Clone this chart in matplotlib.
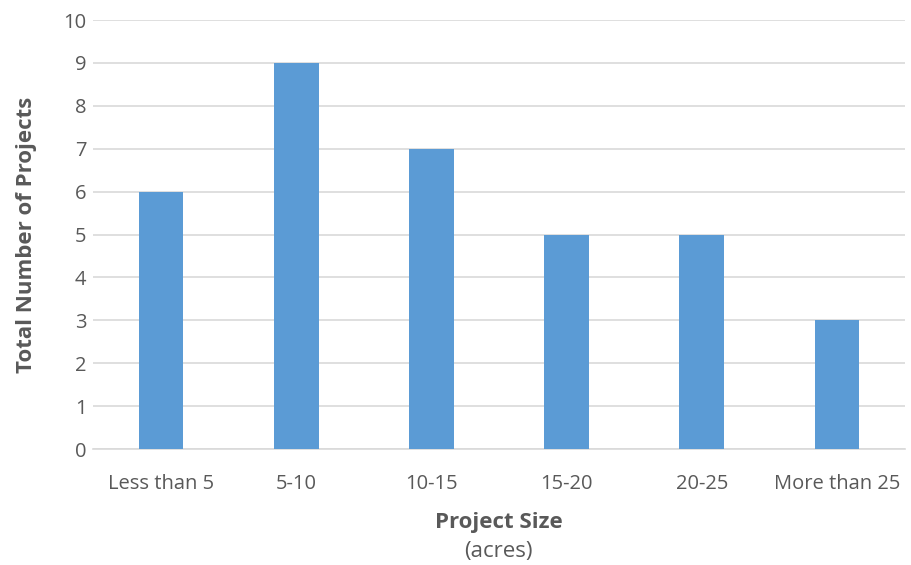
import matplotlib.pyplot as plt
import numpy as np

categories = ["Less than 5", "5-10", "10-15", "15-20", "20-25", "More than 25"]
projects = [6, 9, 7, 5, 5, 3]

plt.rcParams['font.family'] = ['Open Sans', 'DejaVu Sans']
text_color = "#595959"

fig = plt.figure(figsize=(9.12, 5.65), dpi=100)
ax = fig.add_axes([0.1025, 0.2053, 0.8893, 0.7593])

x = np.arange(len(categories))
ax.bar(x, projects, width=0.33, color="#5B9BD5", zorder=3)

ax.set_xlim(-0.5, len(categories) - 0.5)
ax.set_ylim(0, 10)
ax.set_yticks(range(0, 11))
ax.set_xticks(x)
ax.set_xticklabels(categories)

ax.grid(axis='y', color="#D9D9D9", linewidth=1.2, zorder=0)
for side in ['top', 'right', 'left']:
    ax.spines[side].set_visible(False)
ax.spines['bottom'].set_color("#D9D9D9")
ax.spines['bottom'].set_linewidth(1.2)
ax.tick_params(axis='both', length=0, labelsize=14.5, colors=text_color)
ax.tick_params(axis='x', pad=18)
ax.tick_params(axis='y', pad=5)

ax.set_ylabel("Total Number of Projects", fontsize=16, fontweight='bold',
              color=text_color, labelpad=19)
fig.text(0.547, 0.066, "Project Size", ha='center', fontsize=16,
         fontweight='bold', color=text_color)
fig.text(0.547, 0.015, "(acres)", ha='center', fontsize=16, color=text_color)

fig.savefig("out.png", dpi=100)
